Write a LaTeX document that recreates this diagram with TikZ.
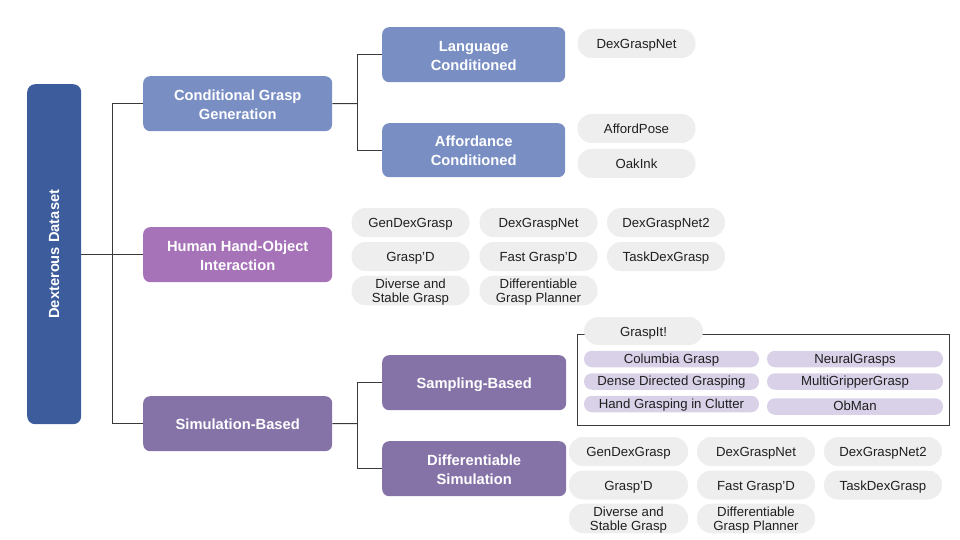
\documentclass[tikz,border=0pt]{standalone}
\usepackage{fontspec}
\setmainfont{Liberation Sans}
\definecolor{rootc}{HTML}{3C5C9C}
\definecolor{condc}{HTML}{798EC3}
\definecolor{hhoic}{HTML}{A672B8}
\definecolor{simc}{HTML}{8573A8}
\definecolor{leafc}{HTML}{EEEEEE}
\definecolor{lavc}{HTML}{D9D1E8}
\definecolor{linec}{HTML}{3A3A3A}
\newcommand{\leafone}{\rule[-3pt]{0pt}{16pt}}
\newcommand{\leaftwo}{\rule{0pt}{12.3pt}}
\newcommand{\hdrone}{\rule[-3.5pt]{0pt}{19pt}}
\newcommand{\hdrtwo}{\rule{0pt}{12.2pt}}
\newcommand{\lavone}{\rule[-3pt]{0pt}{14.6pt}}
\tikzset{
  hdr/.style={rounded corners=7pt, inner sep=0pt, align=center, text=white,
    font=\fontsize{14.7}{18.8}\selectfont\bfseries, anchor=north west},
  leaf/.style={fill=leafc, rounded corners=14pt, minimum width=118pt, minimum height=29pt,
    inner sep=0pt, align=center, text=black!88, font=\fontsize{13.2}{14.5}\selectfont},
  lav/.style={fill=lavc, rounded corners=8pt, minimum height=16.5pt,
    inner sep=0pt, align=center, text=black!88, font=\fontsize{13.2}{14.5}\selectfont},
  conn/.style={draw=linec, line width=1pt},
}
\begin{document}
\begin{tikzpicture}[x=1pt,y=-1pt]
\useasboundingbox (0,0) rectangle (960,540);
% root
\node[hdr, fill=rootc, minimum width=54pt, minimum height=340pt, rounded corners=8pt] (root) at (27,84) {};
\node[rotate=90, text=white, font=\fontsize{14.7}{19}\selectfont\bfseries] (roottxt) at (root.center) {Dexterous Dataset};
% level 1
\node[hdr, fill=condc, minimum width=189pt, minimum height=55pt] (cgg) at (143,76) {\hdrtwo Conditional Grasp\\Generation};
\node[hdr, fill=hhoic, minimum width=189pt, minimum height=55pt] (hhoi) at (143,227) {\hdrtwo Human Hand-Object\\Interaction};
\node[hdr, fill=simc, minimum width=189pt, minimum height=55pt] (sim) at (143,396) {\hdrone Simulation-Based};
% level 2
\node[hdr, fill=condc, minimum width=183pt, minimum height=55pt] (lang) at (382,27) {\hdrtwo Language\\Conditioned};
\node[hdr, fill=condc, minimum width=183pt, minimum height=54pt] (aff) at (382,123) {\hdrtwo Affordance\\Conditioned};
\node[hdr, fill=simc, minimum width=184pt, minimum height=55pt] (samp) at (382,355) {\hdrone Sampling-Based};
\node[hdr, fill=simc, minimum width=184pt, minimum height=55pt] (diff) at (382,441) {\hdrtwo Differentiable\\Simulation};
% connectors
\coordinate (j0) at (112,254);
\coordinate (j1) at (357,103.5);
\coordinate (j2) at (357,423.5);
\draw[conn] (root.east |- j0) -- (j0);
\draw[conn] (j0) |- (cgg.west);
\draw[conn] (j0) -- (hhoi.west |- j0);
\draw[conn] (j0) |- (sim.west);
\draw[conn] (cgg.east) -- (j1);
\draw[conn] (j1) |- (lang.west);
\draw[conn] (j1) |- (aff.west);
\draw[conn] (sim.east) -- (j2);
\draw[conn] (j2) |- (samp.west);
\draw[conn] (j2) |- (diff.west);
% conditional leaves
\node[leaf] (l1) at (636.5,43.5) {\leafone DexGraspNet};
\node[leaf] (a1) at (636.5,128.5) {\leafone AffordPose};
\node[leaf] (a2) at (636.5,163.5) {\leafone OakInk};
% HHOI leaves
\node[leaf] (h11) at (410.5,222.5) {\leafone GenDexGrasp};
\node[leaf] (h12) at (538.5,222.5) {\leafone DexGraspNet};
\node[leaf] (h13) at (666,222.5) {\leafone DexGraspNet2};
\node[leaf] (h21) at (410.5,256.5) {\leafone Grasp'D};
\node[leaf] (h22) at (538.5,256.5) {\leafone Fast Grasp'D};
\node[leaf] (h23) at (666,256.5) {\leafone TaskDexGrasp};
\node[leaf] (h31) at (410.5,290.5) {\leaftwo Diverse and\\Stable Grasp};
\node[leaf] (h32) at (538.5,290.5) {\leaftwo Differentiable\\Grasp Planner};
% sampling box
\node[draw=linec, line width=0.9pt, minimum width=372pt, minimum height=91pt, inner sep=0pt, anchor=north west] (sbox) at (577,334) {};
\node[leaf, minimum width=119pt, minimum height=28pt] (gi) at (643.5,331) {\leafone GraspIt!};
\node[lav, minimum width=175pt] (s11) at (671.5,359) {\lavone Columbia Grasp};
\node[lav, minimum width=175pt] (s21) at (671.5,381.5) {\lavone Dense Directed Grasping};
\node[lav, minimum width=175pt] (s31) at (671.5,404) {\lavone Hand Grasping in Clutter};
\node[lav, minimum width=176pt] (s12) at (855,359) {\lavone NeuralGrasps};
\node[lav, minimum width=176pt] (s22) at (855,381.5) {\lavone MultiGripperGrasp};
\node[lav, minimum width=176pt] (s32) at (855,406.5) {\lavone ObMan};
% differentiable leaves
\node[leaf, minimum width=119pt] (d11) at (628.5,451.5) {\leafone GenDexGrasp};
\node[leaf] (d12) at (756,451.5) {\leafone DexGraspNet};
\node[leaf] (d13) at (883,451.5) {\leafone DexGraspNet2};
\node[leaf, minimum width=119pt] (d21) at (628.5,485) {\leafone Grasp'D};
\node[leaf] (d22) at (756,485) {\leafone Fast Grasp'D};
\node[leaf] (d23) at (883,485) {\leafone TaskDexGrasp};
\node[leaf, minimum width=119pt] (d31) at (628.5,518.5) {\leaftwo Diverse and\\Stable Grasp};
\node[leaf] (d32) at (756,518.5) {\leaftwo Differentiable\\Grasp Planner};
\end{tikzpicture}
\end{document}
